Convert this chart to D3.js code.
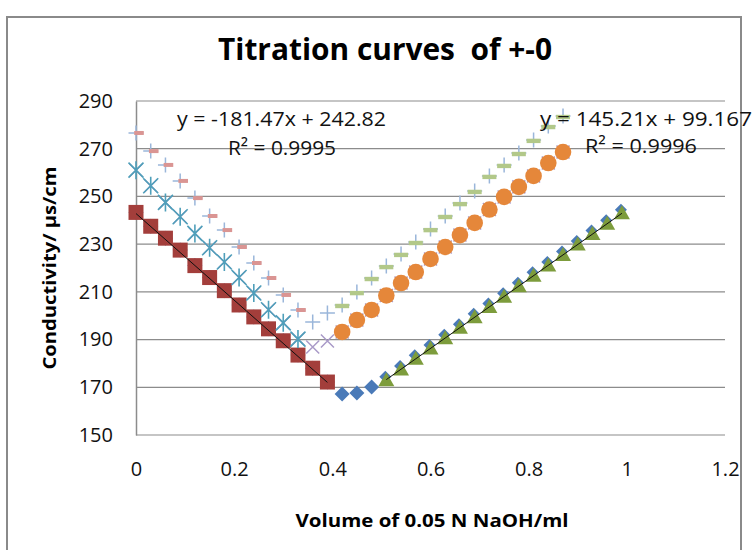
<!DOCTYPE html>
<html lang="en">
<head>
  <meta charset="UTF-8">
  <title>Titration curves</title>
  <style>
    body {
      margin: 0;
      background: #fff;
    }
    svg {
      display: block;
      font-family: "Open Sans", "DejaVu Sans", sans-serif;
    }
  </style>
</head>
<body>
  <script src="https://d3js.org/d3.v7.min.js"></script>
  <script>
    'use strict';

    // ---- data ----
    const xTicks = [0, 0.2, 0.4, 0.6, 0.8, 1, 1.2];
    const yTicks = [150, 170, 190, 210, 230, 250, 270, 290];

    // titration 1
    const volDown1 = [0, 0.03, 0.06, 0.09, 0.12, 0.15, 0.18, 0.21, 0.24, 0.27, 0.30, 0.33, 0.36, 0.39];
    const condDown1 = [243.3, 237.5, 232.5, 227.5, 221, 216, 210.5, 204.5, 199.5, 194.5, 189.5, 183.5, 178, 172.2];
    const volMid1 = [0.42, 0.45, 0.48];
    const condMid1 = [167.2, 167.6, 170.1];
    const volUp1 = [0.51, 0.54, 0.57, 0.60, 0.63, 0.66, 0.69, 0.72, 0.75, 0.78, 0.81, 0.84, 0.87, 0.90, 0.93, 0.96, 0.99];
    const condUp1 = [173, 177.5, 182, 186.3, 190.6, 195, 199.4, 203.7, 208, 212.4, 216.8, 221.1, 225.5, 229.9, 234.2, 238.6, 242.9];

    // titration 2
    const volDown2 = [0, 0.03, 0.06, 0.09, 0.12, 0.15, 0.18, 0.21, 0.24, 0.27, 0.30, 0.33];
    const condDown2 = [261, 254.5, 247.5, 241.5, 234.5, 228.5, 222.5, 216, 209.5, 202.5, 197, 190.2];
    const volMid2 = [0.36, 0.39];
    const condMid2 = [186.9, 189.4];
    const volUp2 = [0.42, 0.45, 0.48, 0.51, 0.54, 0.57, 0.60, 0.63, 0.66, 0.69, 0.72, 0.75, 0.78, 0.81, 0.84, 0.87];
    const condUp2 = [193.2, 198.2, 202.4, 208.5, 213.7, 218.3, 223.8, 228.8, 233.8, 238.9, 244.5, 249.8, 254, 258.6, 264, 268.6];

    // titration 3
    const volDown3 = [0, 0.03, 0.06, 0.09, 0.12, 0.15, 0.18, 0.21, 0.24, 0.27, 0.30, 0.33];
    const condDown3 = [276.6, 269, 263.2, 256.5, 249.3, 241.8, 235.9, 228.8, 222.1, 215.8, 208.7, 202.4];
    const volMid3 = [0.36, 0.39];
    const condMid3 = [197.4, 201.1];
    const volUp3 = [0.42, 0.45, 0.48, 0.51, 0.54, 0.57, 0.60, 0.63, 0.66, 0.69, 0.72, 0.75, 0.78, 0.81, 0.84, 0.87];
    const condUp3 = [204.5, 209.9, 215.8, 220.8, 225.9, 230.9, 236.3, 241.8, 247.2, 252.3, 258.6, 263.2, 268.2, 273.7, 279.5, 283.7];

    // trendlines as printed on the chart
    const trendDown = { slope: -181.47, intercept: 242.82, from: 0, to: 0.39 };
    const trendUp = { slope: 145.21, intercept: 99.167, from: 0.51, to: 0.99 };
    const eqDown = ['y = -181.47x + 242.82', 'R² = 0.9995'];
    const eqUp = ['y = 145.21x + 99.167', 'R² = 0.9996'];

    // ---- layout ----
    const width = 752;
    const height = 550;
    const plotLeft = 136;
    const plotRight = 725;
    const plotTop = 101;
    const plotBottom = 435;

    const pts = (xs, ys) => xs.map((v, i) => ({ x: v, y: ys[i] }));

    const x = d3.scaleLinear().domain([0, 1.2]).range([plotLeft, plotRight]);
    const y = d3.scaleLinear().domain([150, 290]).range([plotBottom, plotTop]);

    const svg = d3.select('body')
      .append('svg')
      .attr('width', width)
      .attr('height', height);

    // outer chart frame
    svg.append('rect')
      .attr('x', 7).attr('y', 17)
      .attr('width', 734).attr('height', 560)
      .attr('fill', '#fff')
      .attr('stroke', '#8a8a8a')
      .attr('stroke-width', 2);

    svg.append('text')
      .attr('x', 385).attr('y', 60)
      .attr('text-anchor', 'middle')
      .attr('font-size', '30px')
      .attr('font-weight', 'bold')
      .attr('textLength', 334)
      .attr('lengthAdjust', 'spacingAndGlyphs')
      .style('white-space', 'pre')
      .text('Titration curves  of +-0');

    // gridlines
    svg.append('g')
      .selectAll('line')
      .data(yTicks)
      .join('line')
      .attr('x1', plotLeft).attr('x2', plotRight)
      .attr('y1', d => y(d)).attr('y2', d => y(d))
      .attr('stroke', '#8c8c8c')
      .attr('stroke-width', 1.2);

    // y axis
    const yAxis = d3.axisLeft(y).tickValues(yTicks).tickSize(0).tickPadding(23);
    svg.append('g')
      .attr('transform', 'translate(' + plotLeft + ',0)')
      .call(yAxis)
      .call(g => g.select('.domain').attr('stroke', '#8c8c8c').attr('stroke-width', 1.5))
      .call(g => g.selectAll('text').attr('font-size', '20px').attr('fill', '#111')
        .attr('font-family', '"Open Sans", sans-serif'));

    // x axis labels (no line, the 150 gridline is the bottom)
    const xAxis = d3.axisBottom(x).tickValues(xTicks).tickSize(0).tickPadding(27)
      .tickFormat(d => String(d));
    svg.append('g')
      .attr('transform', 'translate(0,' + plotBottom + ')')
      .call(xAxis)
      .call(g => g.select('.domain').remove())
      .call(g => g.selectAll('text').attr('font-size', '20px').attr('fill', '#111')
        .attr('font-family', '"Open Sans", sans-serif'));

    // axis titles
    svg.append('text')
      .attr('transform', 'translate(56,268) rotate(-90)')
      .attr('text-anchor', 'middle')
      .attr('font-size', '18px')
      .attr('font-weight', 'bold')
      .attr('textLength', 203)
      .attr('lengthAdjust', 'spacingAndGlyphs')
      .text('Conductivity/ µs/cm');

    svg.append('text')
      .attr('x', 432).attr('y', 527)
      .attr('text-anchor', 'middle')
      .attr('font-size', '18px')
      .attr('font-weight', 'bold')
      .attr('textLength', 273)
      .attr('lengthAdjust', 'spacingAndGlyphs')
      .text('Volume of 0.05 N NaOH/ml');

    // ---- markers ----
    const shapes = {
      diamond: r => `M0,${-r}L${r},0L0,${r}L${-r},0Z`,
      square: r => `M${-r},${-r}H${r}V${r}H${-r}Z`,
      triangle: r => `M0,${-r}L${r},${r * 0.75}L${-r},${r * 0.75}Z`,
      circle: r => `M${r},0A${r},${r} 0 1,1 ${-r},0A${r},${r} 0 1,1 ${r},0Z`,
      ex: r => `M${-r},${-r}L${r},${r}M${r},${-r}L${-r},${r}`,
      star: r => `M${-r},${-r}L${r},${r}M${r},${-r}L${-r},${r}M0,${-r * 1.2}V${r * 1.2}`,
      plus: r => `M${-r},0H${r}M0,${-r}V${r}`,
      dash: r => `M${-r * 0.3},-2H${r * 1.3}V2H${-r * 0.3}Z`,
      dashC: r => `M${-r},-2.2H${r}V2.2H${-r}Z`
    };

    function drawSeries(data, shape, r, fill, stroke, sw, dx, dy) {
      svg.append('g')
        .selectAll('path')
        .data(data)
        .join('path')
        .attr('transform', d => 'translate(' + (x(d.x) + dx) + ',' + (y(d.y) + dy) + ')')
        .attr('d', shapes[shape](r))
        .attr('fill', fill)
        .attr('stroke', stroke)
        .attr('stroke-width', sw);
    }

    const all2 = pts(volDown2.concat(volMid2, volUp2), condDown2.concat(condMid2, condUp2));
    const all3 = pts(volDown3.concat(volMid3, volUp3), condDown3.concat(condMid3, condUp3));

    // diamonds: full titration 1, the rising part sits a bit above the triangles
    drawSeries(pts(volDown1.concat(volMid1), condDown1.concat(condMid1)), 'diamond', 7.5, '#4a7ab8', 'none', 0, 0, 0);
    drawSeries(pts(volUp1, condUp1), 'diamond', 6, '#4a7ab8', 'none', 0, -1, -3.5);
    drawSeries(pts(volDown1, condDown1), 'square', 7.5, '#a33e3b', 'none', 0, 0, 0);
    drawSeries(pts(volUp1, condUp1), 'triangle', 8, '#7d9c3c', 'none', 0, 0, 0);

    drawSeries(all2, 'ex', 6.5, 'none', '#a99ac8', 1.5, 0, 0);
    drawSeries(pts(volDown2, condDown2), 'star', 7.5, 'none', '#4f9fba', 1.6, 0, 0);
    drawSeries(pts(volUp2, condUp2), 'circle', 8.3, '#e5873a', 'none', 0, 0, 0);

    drawSeries(all3, 'plus', 7.5, 'none', '#9ab6da', 1.5, 0, 0);
    drawSeries(pts(volDown3, condDown3), 'dash', 6, '#da9593', 'none', 0, 0, 0);
    drawSeries(pts(volUp3, condUp3), 'dashC', 7, '#b2c889', 'none', 0, 0, 1);

    // trendlines
    [trendDown, trendUp].forEach(t => {
      svg.append('line')
        .attr('x1', x(t.from)).attr('y1', y(t.slope * t.from + t.intercept))
        .attr('x2', x(t.to)).attr('y2', y(t.slope * t.to + t.intercept))
        .attr('stroke', '#111')
        .attr('stroke-width', 1);
    });

    // equations
    function drawEq(lines, x1, y1, w1, x2, y2, w2) {
      svg.append('text')
        .attr('x', x1).attr('y', y1)
        .attr('font-size', '20px').attr('fill', '#111')
        .attr('textLength', w1).attr('lengthAdjust', 'spacingAndGlyphs')
        .text(lines[0]);
      svg.append('text')
        .attr('x', x2).attr('y', y2)
        .attr('font-size', '20px').attr('fill', '#111')
        .attr('textLength', w2).attr('lengthAdjust', 'spacingAndGlyphs')
        .text(lines[1]);
    }
    drawEq(eqDown, 177, 126, 209, 228, 155, 108);
    drawEq(eqUp, 540, 126, 212, 585, 153, 112);
  </script>
</body>
</html>
